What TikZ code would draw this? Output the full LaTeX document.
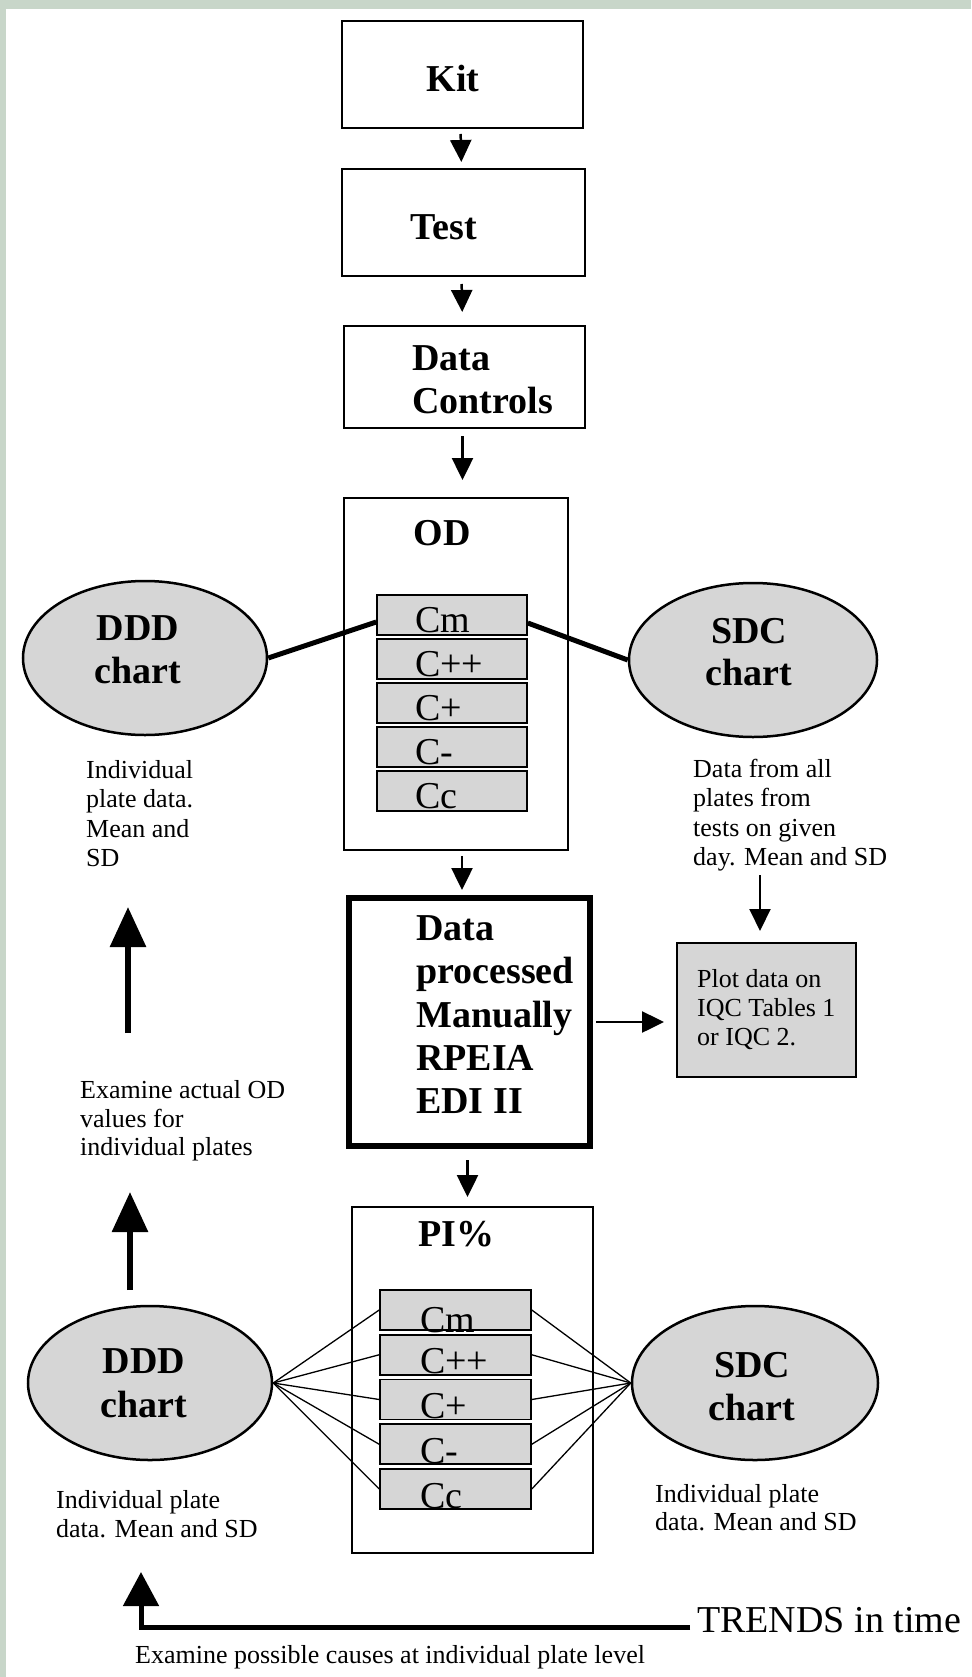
\documentclass[tikz,border=0pt]{standalone}
\usepackage{fontspec}
\setmainfont{Liberation Serif}
\usetikzlibrary{shapes.geometric,arrows.meta,calc}
\definecolor{band}{RGB}{200,214,201}
\definecolor{cellgray}{RGB}{214,214,214}
\begin{document}
\begin{tikzpicture}[x=1pt,y=-1pt,
  box/.style={draw, line width=2pt, rectangle, inner sep=0pt},
  cell/.style={draw, line width=1.6pt, fill=cellgray, minimum height=40pt, inner sep=0pt},
  oval/.style={draw, ellipse, line width=2.5pt, fill=cellgray, minimum height=154pt, inner sep=0pt},
  bigtxt/.style={font=\fontsize{38}{43}\selectfont\bfseries, inner sep=0pt, anchor=base},
  bigtxtl/.style={font=\fontsize{38}{43}\selectfont\bfseries, inner sep=0pt, anchor=base west},
  celltxt/.style={font=\fontsize{38}{43}\selectfont, inner sep=0pt, anchor=base west},
  smalltxt/.style={font=\fontsize{26}{29}\selectfont, inner sep=0pt, anchor=base west},
  arr/.style={-{Triangle[length=22pt,width=21pt]}, line width=2.5pt},
  bigarr/.style={-{Triangle[length=40pt,width=35pt]}, line width=6pt},
]
\useasboundingbox (0,0) rectangle (971,1677);
\fill[white] (0,0) rectangle (971,1677);
\fill[band] (0,0) rectangle (971,9);
\fill[band] (0,0) rectangle (6,1677);

% top chain
\node[box, minimum width=241pt, minimum height=107pt] (kit) at (462.5,74.5) {};
\node[bigtxt] (kitt) at (453,92) {Kit};
\node[box, minimum width=243pt, minimum height=107pt] (test) at (463.5,222.5) {};
\node[bigtxt] (testt) at (444,240) {Test};
\node[box, minimum width=241pt, minimum height=102pt] (dc) at (464.5,377) {};
\node[bigtxtl] (dct1) at (412,370) {Data};
\node[bigtxtl] (dct2) at (412,413) {Controls};

\draw[arr, shorten <=5pt, shorten >=6pt] ([xshift=-2pt]kit.south) -- ([xshift=-2pt]test.north);
\draw[arr, shorten <=7pt, shorten >=13pt] ([xshift=-2pt]test.south) -- ([xshift=-2pt]dc.north);
\draw[arr, shorten <=7pt, shorten >=18pt] ([xshift=-2pt]dc.south) -- ([xshift=-2pt]dc.south |- 0,498);

% OD box
\node[box, line width=1.6pt, minimum width=224pt, minimum height=352pt] (od) at (456,674) {};
\node[bigtxt] (odt) at (442,545) {OD};
\node[cell, minimum width=150pt] (cm1) at (452,615) {};
\node[cell, minimum width=150pt] (cpp1) at (452,659) {};
\node[cell, minimum width=150pt] (cp1) at (452,703) {};
\node[cell, minimum width=150pt] (cmi1) at (452,747) {};
\node[cell, minimum width=150pt] (cc1) at (452,791) {};
\node[celltxt] (cm1t) at (415,632) {Cm};
\node[celltxt] (cpp1t) at (415,676) {C++};
\node[celltxt] (cp1t) at (415,720) {C+};
\node[celltxt] (cmi1t) at (415,764) {C-};
\node[celltxt] (cc1t) at (415,808) {Cc};

% upper ellipses
\node[oval, minimum width=244pt] (ddd1) at (145,658) {};
\node[bigtxt] (ddd1a) at (138,640) {DDD};
\node[bigtxt] (ddd1b) at (138,683) {chart};
\node[oval, minimum width=248pt] (sdc1) at (753,660) {};
\node[bigtxt] (sdc1a) at (749,643) {SDC};
\node[bigtxt] (sdc1b) at (749,685) {chart};
\draw[line width=5pt] (ddd1.east) -- ($(cm1.west)+(0,7)$);
\draw[line width=5pt] ($(cm1.east)+(0,8)$) -- (sdc1.west);

\node[smalltxt] (l1a) at (86,778) {Individual};
\node[smalltxt] (l1b) at (86,807) {plate data.};
\node[smalltxt] (l1c) at (86,837) {Mean and};
\node[smalltxt] (l1d) at (86,866) {SD};
\node[smalltxt] (r1a) at (693,777) {Data from all};
\node[smalltxt] (r1b) at (693,806) {plates from};
\node[smalltxt] (r1c) at (693,836) {tests on given};
\node[smalltxt] (r1d) at (693,865) {day. Mean and SD};

% data processed
\node[box, line width=6pt, minimum width=241pt, minimum height=248pt] (dp) at (469.5,1022) {};
\node[bigtxtl] (dp1) at (416,940) {Data};
\node[bigtxtl] (dp2) at (416,983) {processed};
\node[bigtxtl] (dp3) at (416,1027) {Manually};
\node[bigtxtl] (dp4) at (416,1070) {RPEIA};
\node[bigtxtl] (dp5) at (416,1113) {EDI II};
\draw[arr, shorten <=5pt, shorten >=5pt] ([xshift=6pt]od.south) -- ([xshift=6pt]od.south |- dp.north);

% plot box
\node[box, fill=cellgray, minimum width=179pt, minimum height=134pt] (plot) at (766.5,1010) {};
\node[smalltxt] (p1) at (697,987) {Plot data on};
\node[smalltxt] (p2) at (697,1016) {IQC Tables 1};
\node[smalltxt] (p3) at (697,1045) {or IQC 2.};
\draw[arr, shorten <=3pt, shorten >=12pt] (dp.east) -- (plot.west |- dp.east);
\coordinate (a5) at (760,875);
\draw[arr, line width=2pt, shorten >=11pt] (a5) -- (a5 |- plot.north);

% left arrows and text
\coordinate (u1s) at (128,1033);
\coordinate (u1e) at (128,907);
\draw[bigarr] (u1s) -- (u1e);
\node[smalltxt] (e1) at (80,1098) {Examine actual OD};
\node[smalltxt] (e2) at (80,1127) {values for};
\node[smalltxt] (e3) at (80,1155) {individual plates};
\coordinate (u2s) at (130,1290);
\coordinate (u2e) at (130,1192);
\draw[bigarr] (u2s) -- (u2e);

% PI box
\draw[arr, shorten <=11pt, shorten >=10pt] ([xshift=-2pt]dp.south) -- ([xshift=-2pt]dp.south |- 0,1207);
\node[box, line width=1.6pt, minimum width=241pt, minimum height=346pt] (pi) at (472.5,1380) {};
\node[bigtxt] (pit) at (456,1246) {PI\%};
\node[cell, minimum width=151pt] (cm2) at (455.5,1310) {};
\node[cell, minimum width=151pt] (cpp2) at (455.5,1354.75) {};
\node[cell, minimum width=151pt] (cp2) at (455.5,1399.5) {};
\node[cell, minimum width=151pt] (cmi2) at (455.5,1444.25) {};
\node[cell, minimum width=151pt] (cc2) at (455.5,1489) {};
\node[celltxt] (cm2t) at (420,1332) {Cm};
\node[celltxt] (cpp2t) at (420,1373.75) {C++};
\node[celltxt] (cp2t) at (420,1418.5) {C+};
\node[celltxt] (cmi2t) at (420,1463.25) {C-};
\node[celltxt] (cc2t) at (420,1508) {Cc};

% lower ellipses
\node[oval, minimum width=244pt] (ddd2) at (150,1383) {};
\node[bigtxt] (ddd2a) at (144,1373) {DDD};
\node[bigtxt] (ddd2b) at (144,1417) {chart};
\node[oval, minimum width=246pt] (sdc2) at (755,1383) {};
\node[bigtxt] (sdc2a) at (752,1377) {SDC};
\node[bigtxt] (sdc2b) at (752,1420) {chart};
\foreach \c in {cm2,cpp2,cp2,cmi2,cc2}{
  \draw[line width=1.3pt] (ddd2.east) -- (\c.west);
  \draw[line width=1.3pt] (\c.east) -- (sdc2.west);
}
\node[smalltxt] (l2a) at (56,1508) {Individual plate};
\node[smalltxt] (l2b) at (56,1537) {data. Mean and SD};
\node[smalltxt] (r2a) at (655,1502) {Individual plate};
\node[smalltxt] (r2b) at (655,1530) {data. Mean and SD};

% trends
\node[font=\fontsize{38}{43}\selectfont, inner sep=0pt, anchor=base west] (trends) at (697,1632) {TRENDS in time};
\coordinate (b0) at (690,1627);
\coordinate (b1) at (141,1572);
\draw[-{Triangle[length=34pt,width=35pt]}, line width=5pt] (b0) -| (b1);
\node[smalltxt] (bt) at (135,1663) {Examine possible causes at individual plate level};
\end{tikzpicture}
\end{document}
